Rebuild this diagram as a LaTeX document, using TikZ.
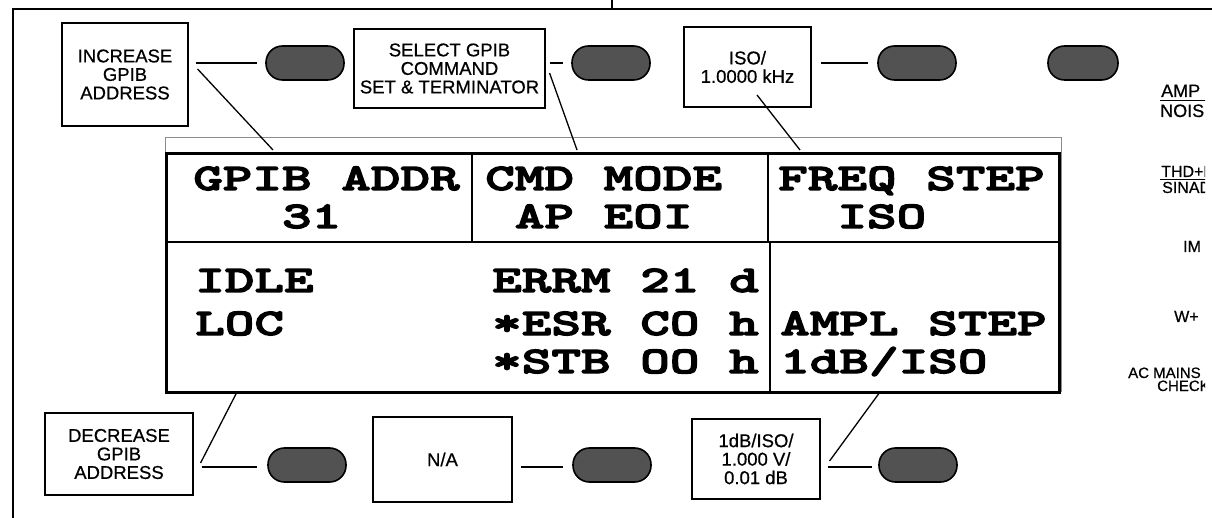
\documentclass[tikz,border=0pt]{standalone}
\usepackage{fontspec}
\setmainfont{Liberation Sans}
\newfontfamily\lcdfont{lmmonolt10-bold.otf}[FakeStretch=1.5,FakeBold=3.5]
\newfontfamily\lblfam{Liberation Sans}[FakeBold=0.6]
\newcommand\lblfont{\lblfam\fontsize{18.5}{18.5}\selectfont}
\newcommand\sidefont{\lblfam\fontsize{16}{16}\selectfont}
\begin{document}
\begin{tikzpicture}[x=1pt,y=-1pt,
  lbl/.style={draw, line width=1.1pt, inner sep=0pt, align=center, font=\lblfont},
  btn/.style={draw, line width=1.6pt, fill=black!68, rounded corners=16.5pt,
    minimum width=78pt, minimum height=34pt, inner sep=0pt},
  conn/.style={line width=1.3pt},
  lcd/.style={anchor=base west, inner sep=0pt, font=\lcdfont\fontsize{37.6}{40}\selectfont},
  side/.style={anchor=base west, inner sep=0pt, font=\sidefont}]
\useasboundingbox (0,0) rectangle (1212,518);
% outer frame
\draw[line width=1.3pt] (13,518) -- (13,9) -- (1212,9);
\draw[line width=1.3pt] (612,0) -- (612,9);
% display
\draw[black!45, line width=0.7pt] (165,137) rectangle (1061,391);
\node[draw, line width=3pt, minimum width=893pt, minimum height=239pt, inner sep=0pt,
  anchor=north west] (disp) at (165,152) {};
\draw[line width=2.5pt] (165,242) -- (1058,242);
\draw[line width=2.5pt] (472,152) -- (472,242);
\draw[line width=2.5pt] (768,152) -- (768,242);
\draw[line width=2.5pt] (770,242) -- (770,391);
% display text
\node[lcd] (t1) at (193,190) {GPIB ADDR};
\node[lcd] (t2) at (193,228) {\ \ \ 31};
\node[lcd] (t3) at (485,190) {CMD MODE};
\node[lcd] (t4) at (485,228) {\ AP EOI};
\node[lcd] (t5) at (778,190) {FREQ STEP};
\node[lcd] (t6) at (778,228) {\ \ ISO};
\node[lcd] (t7) at (195,292) {IDLE};
\node[lcd] (t8) at (195,335) {LOC};
\node[lcd] (t9) at (492,292) {ERRM 21 d};
\node[lcd] (t10) at (492,335) {*ESR CO h};
\node[lcd] (t11) at (492,373) {*STB OO h};
\node[lcd] (t12) at (780,335) {AMPL STEP};
\node[lcd] (t13) at (780,373) {1dB/ISO};
% buttons
\node[btn] (b1) at (305,63) {};
\node[btn] (b2) at (611,63) {};
\node[btn] (b3) at (917,63) {};
\node[btn, minimum width=70pt] (b4) at (1083,63) {};
\node[btn] (b5) at (307,465) {};
\node[btn] (b6) at (612,465) {};
\node[btn] (b7) at (918,465) {};
% label boxes
\node[lbl, minimum width=126pt, minimum height=103pt] (inc) at (125,74.5) {INCREASE\\GPIB\\ADDRESS};
\node[lbl, minimum width=191pt, minimum height=79pt] (sel) at (449.5,68.5) {SELECT GPIB\\COMMAND\\SET \& TERMINATOR};
\node[lbl, minimum width=127pt, minimum height=80pt] (iso) at (747.5,67) {ISO/\\1.0000 kHz};
\node[lbl, minimum width=148pt, minimum height=82pt] (dec) at (119,454) {DECREASE\\GPIB\\ADDRESS};
\node[lbl, minimum width=139pt, minimum height=85pt] (na) at (442.5,459.5) {N/A};
\node[lbl, minimum width=128pt, minimum height=80pt] (db) at (756,459) {1dB/ISO/\\1.000 V/\\0.01 dB};
% display end points of callouts
\coordinate (p1) at (273,150);
\coordinate (p2) at (577,150);
\coordinate (p3) at (800,150);
\coordinate (p4) at (237,392);
\coordinate (p5) at (880,392);
% connectors
\draw[conn, shorten <=7pt, shorten >=8pt] (inc.east |- b1.west) -- (b1.west);
\draw[conn] ([shift={(9,-5.5)}]inc.east) -- (p1);
\draw[conn, shorten <=4pt, shorten >=8.5pt] (sel.east |- b2.west) -- (b2.west);
\draw[conn] ([shift={(4,4.5)}]sel.east) -- (p2);
\draw[conn, shorten <=9pt, shorten >=9pt] (iso.east |- b3.west) -- (b3.west);
\draw[conn] ([shift={(9.5,28)}]iso.center) -- (p3);
\draw[conn, shorten <=8pt, shorten >=10pt] ([yshift=-2pt]dec.east |- b5.west) -- ([yshift=-2pt]b5.west);
\draw[conn] ([shift={(7,9)}]dec.east) -- (p4);
\draw[conn, shorten <=8pt, shorten >=9pt] ([yshift=-2pt]na.east |- b6.west) -- ([yshift=-2pt]b6.west);
\draw[conn, shorten <=7pt, shorten >=6.5pt] ([yshift=-2pt]db.east |- b7.west) -- ([yshift=-2pt]b7.west);
\draw[conn] ([shift={(9,2)}]db.east) -- (p5);
% right-side panel labels (cut by the edge)
\begin{scope}
\clip (1100,70) rectangle (1205,400);
\node[side, font=\lblfam\fontsize{18}{18}\selectfont] (s1) at (1161,97) {AMP};
\draw[line width=1pt] (1160,100.5) -- (1212,100.5);
\node[side, font=\lblfam\fontsize{18}{18}\selectfont] (s2) at (1160,117) {NOISE};
\node[side] (s3) at (1161,177) {THD+N};
\draw[line width=1pt] (1160,179.5) -- (1212,179.5);
\node[side] (s4) at (1162,193) {SINAD};
\node[side] (s5) at (1183,252) {IM};
\node[side] (s6) at (1174,322) {W+};
\node[side, font=\lblfam\fontsize{15}{15}\selectfont] (s7) at (1128,378) {AC MAINS};
\node[side, font=\lblfam\fontsize{15}{15}\selectfont] (s8) at (1157,391) {CHECK};
\end{scope}
\end{tikzpicture}
\end{document}
